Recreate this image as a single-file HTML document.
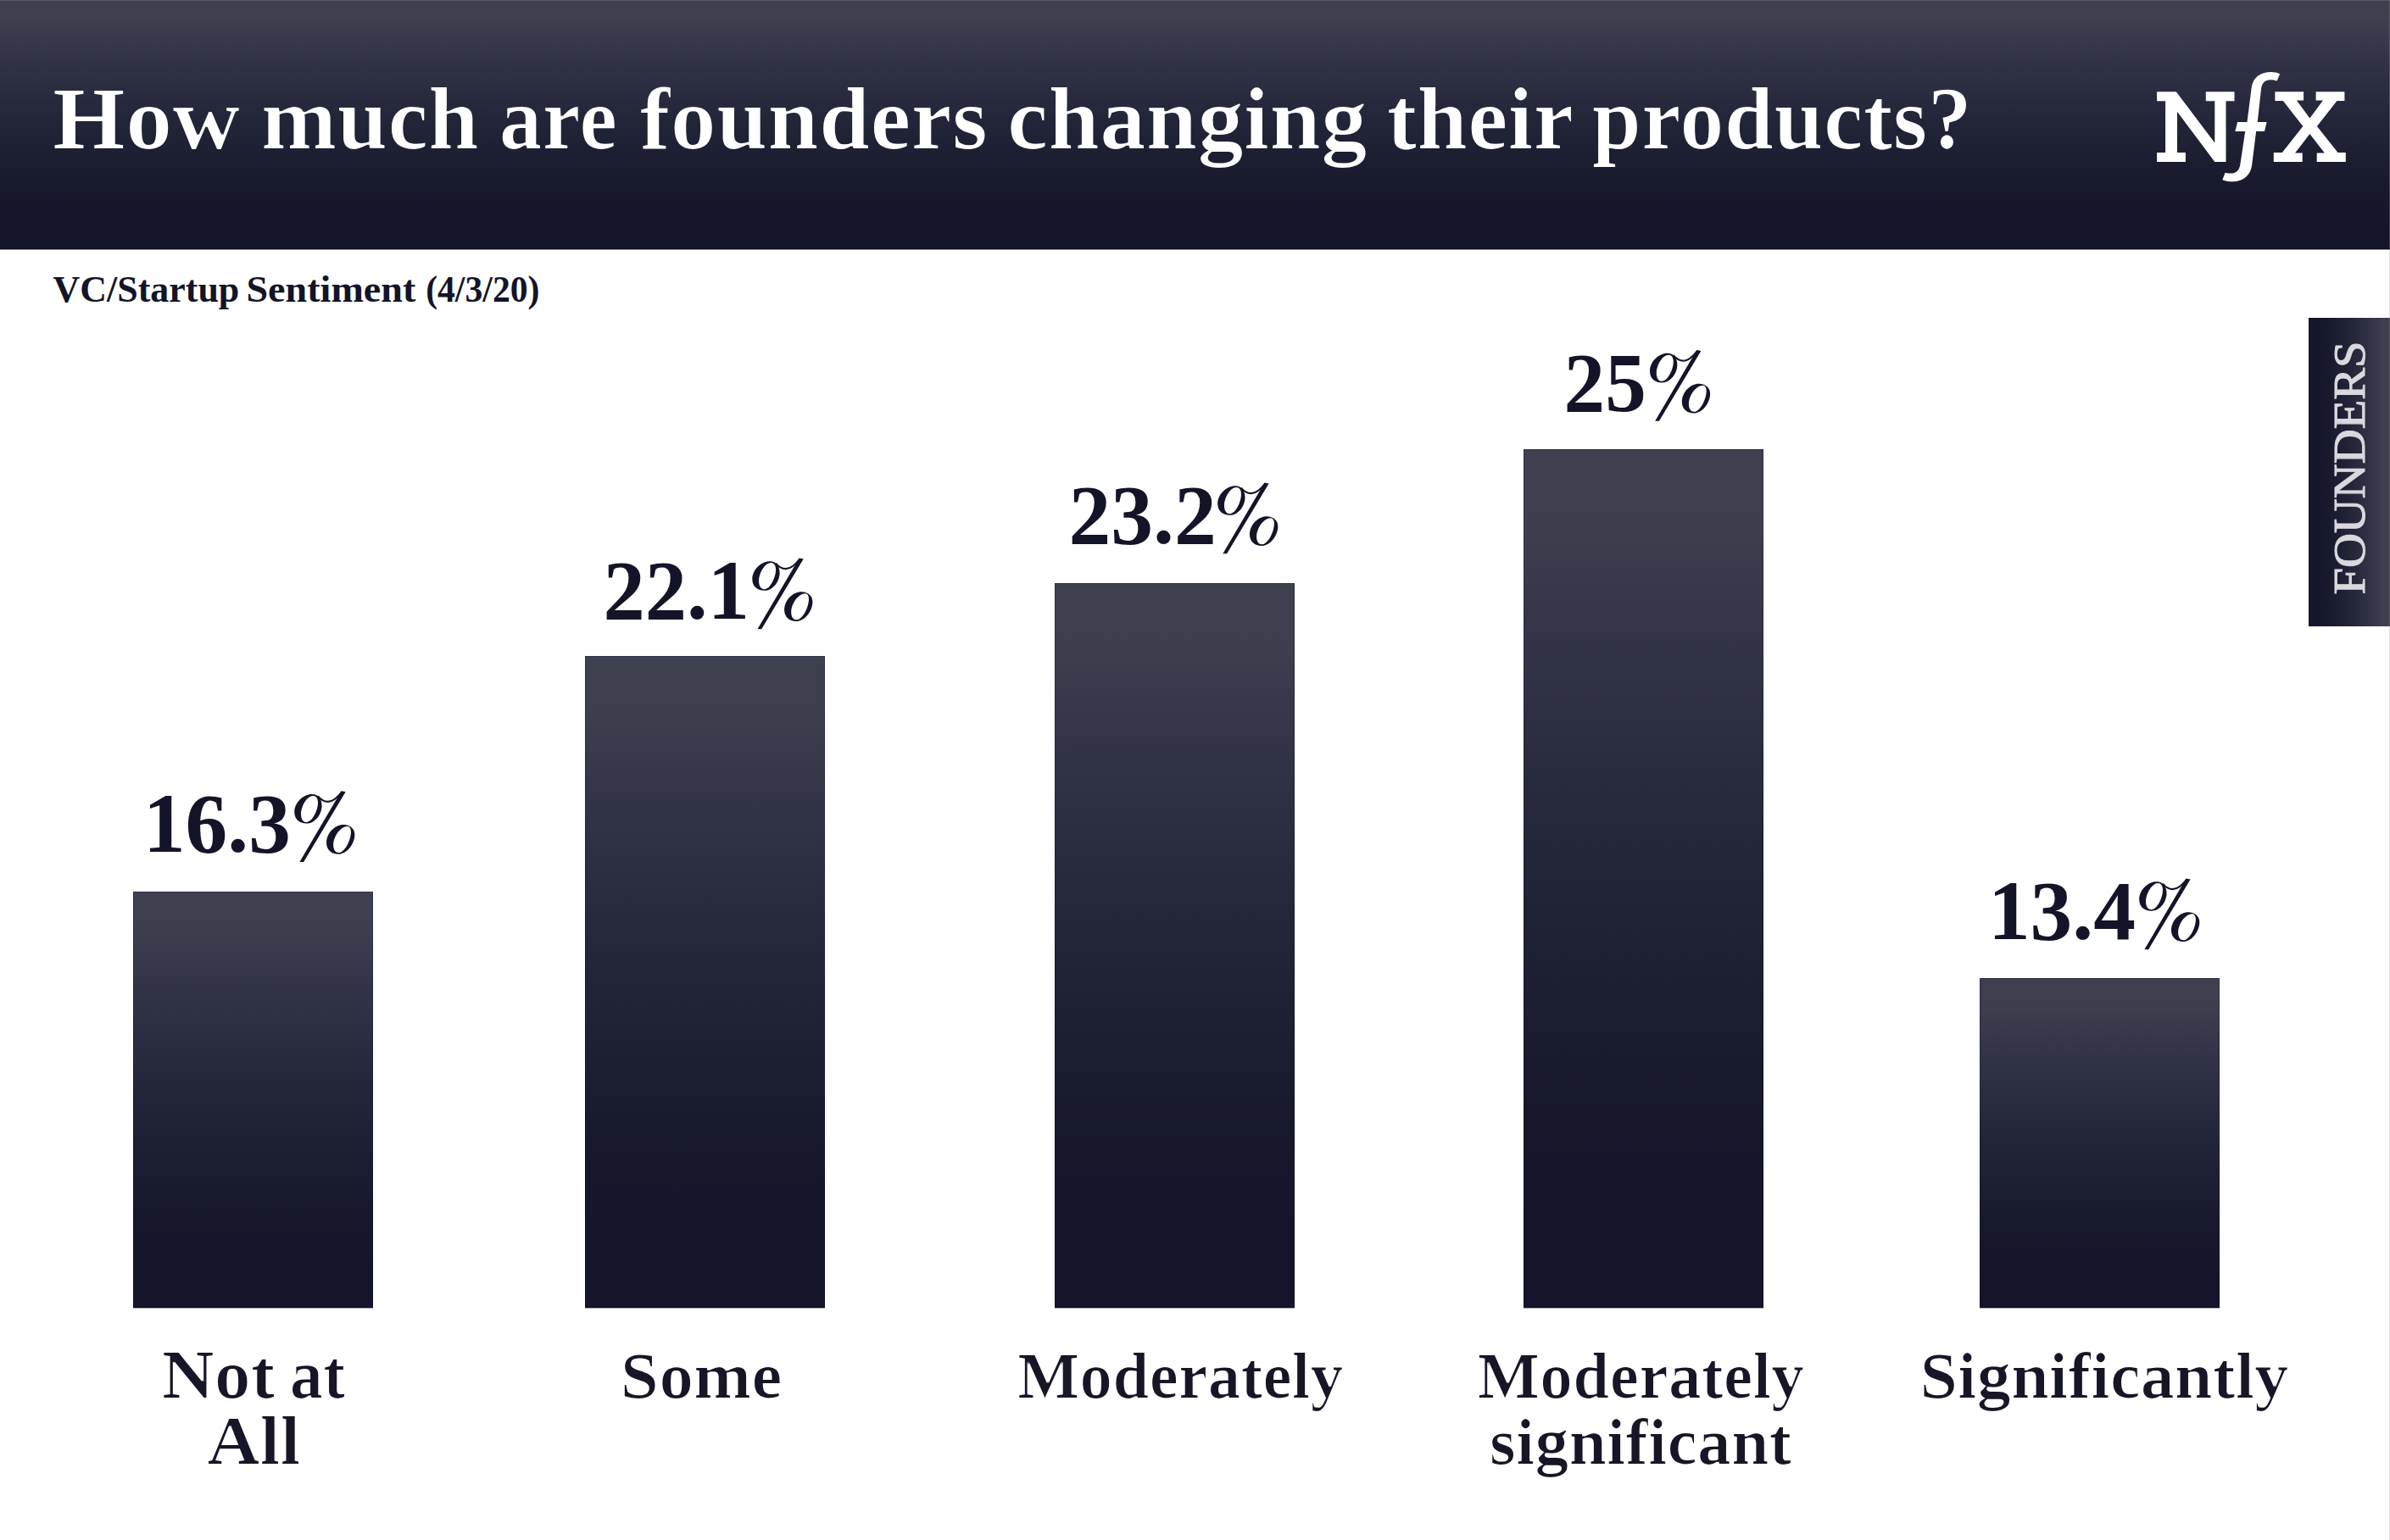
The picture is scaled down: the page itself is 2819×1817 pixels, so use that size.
<!DOCTYPE html>
<html><head><meta charset="utf-8">
<style>
html,body{margin:0;padding:0;background:#fff;}
body{width:2819px;height:1817px;overflow:hidden;position:relative;}
svg{position:absolute;left:0;top:0;display:block;}
text{font-family:"Liberation Serif",serif;font-kerning:normal;}
</style></head>
<body>
<svg width="2819" height="1817" viewBox="0 0 2819 1817">
<defs>
<linearGradient id="hg" x1="0" y1="0" x2="0" y2="294" gradientUnits="userSpaceOnUse">
<stop offset="0" stop-color="#3e3f4f"/><stop offset="0.075" stop-color="#3e3f4f"/><stop offset="0.221" stop-color="#333447"/><stop offset="0.493" stop-color="#222438"/><stop offset="0.765" stop-color="#17182c"/><stop offset="0.908" stop-color="#14152a"/><stop offset="1" stop-color="#14152a"/>
</linearGradient>
<linearGradient id="bg" x1="0" y1="0" x2="0" y2="1">
<stop offset="0" stop-color="#3e3f4f"/><stop offset="0.075" stop-color="#3e3f4f"/><stop offset="0.221" stop-color="#333447"/><stop offset="0.493" stop-color="#222438"/><stop offset="0.765" stop-color="#17182c"/><stop offset="0.908" stop-color="#14152a"/><stop offset="1" stop-color="#14152a"/>
</linearGradient>
<linearGradient id="tg" x1="0" y1="0" x2="1" y2="0">
<stop offset="0" stop-color="#14152a"/><stop offset="0.092" stop-color="#14152a"/><stop offset="0.235" stop-color="#17182c"/><stop offset="0.507" stop-color="#222438"/><stop offset="0.779" stop-color="#333447"/><stop offset="0.925" stop-color="#3e3f4f"/><stop offset="1" stop-color="#3e3f4f"/>
</linearGradient>
<g id="pctg">
<path fill-rule="evenodd" d="M430,185 C545,185 610,280 608,400 C605,560 480,718 330,718 C190,718 110,630 110,510 C110,340 270,185 430,185 Z M450,214 C505,214 538,265 538,335 C538,480 435,692 330,692 C268,692 230,640 230,545 C230,400 340,214 450,214 Z"/>
<path fill="none" stroke="#131428" stroke-width="32" d="M538,222 C590,290 640,322 720,322 C800,322 880,262 975,140"/>
<path d="M962,128 L1040,143 L278,1416 L205,1416 Z"/>
<path fill-rule="evenodd" d="M1000,740 C1130,740 1205,820 1205,920 C1205,1090 1060,1275 910,1275 C780,1275 692,1190 692,1070 C692,890 850,740 1000,740 Z M1075,771 C1118,771 1137,820 1137,870 C1137,1020 1025,1248 915,1248 C858,1248 817,1200 817,1110 C817,960 945,771 1075,771 Z"/>
</g>
<filter id="thin1" x="-5%" y="-20%" width="110%" height="140%"><feMorphology operator="erode" radius="1 0"/></filter>
</defs>
<rect x="0" y="0" width="2819" height="294" fill="url(#hg)"/>
<rect x="0" y="0" width="2819" height="1" fill="#97979e" fill-opacity="0.3"/>
<rect x="0" y="293" width="2819" height="1" fill="#0c0c20"/>
<rect x="0" y="294" width="2819" height="1" fill="#14152a" fill-opacity="0.45"/>
<g fill="#fff">
<path d="M2544.1,108.2 L2566.8,108.2 L2612.3,168.6 L2612.3,119.3 L2601.8,119.3 L2601.8,108.2 L2635.5,108.2 L2635.5,119.3 L2625.5,119.3 L2625.5,190.9 L2612.3,190.9 L2568,131.8 L2568,180 L2577.9,180 L2577.9,190.9 L2544.1,190.9 L2544.1,180 L2554.1,180 L2554.1,119.3 L2544.1,119.3 Z"/>
<path transform="translate(2530,80) scale(0.0909091)" d="M1750,80 L1712,170 C1680,160 1640,155 1600,160 C1540,170 1515,220 1508,270 L1460,705 L1580,705 L1550,825 L1442,825 L1388,1260 C1375,1380 1290,1478 1130,1478 C1080,1478 1040,1468 1005,1455 L1040,1360 C1070,1368 1100,1372 1130,1370 C1190,1365 1225,1320 1235,1260 L1300,825 L1170,825 L1200,705 L1325,705 L1383,255 C1400,130 1490,55 1640,55 C1680,55 1720,65 1750,80 Z"/>
<path d="M2683.4,108.2 L2717.1,108.2 L2717.1,118.6 L2708.9,118.6 L2724.4,139.6 L2739.9,118.6 L2731.6,118.6 L2731.6,108.2 L2765.4,108.2 L2765.4,119.1 L2756.4,119.1 L2732.9,148.9 L2757.5,180 L2766.8,180 L2766.8,191.1 L2732.7,191.1 L2732.7,180.4 L2741.8,180.4 L2724.4,157.9 L2707.1,180.4 L2715.7,180.4 L2715.7,191.1 L2681.8,191.1 L2681.8,180 L2691.8,180 L2716.3,148.9 L2692.9,119.1 L2683.4,119.1 Z"/>
</g>
<rect x="2723" y="375" width="96" height="364" fill="url(#tg)"/>
<text id="tab" transform="translate(2789.10,701.62) rotate(-90)" x="0" y="0" font-size="53.6" textLength="299.27" lengthAdjust="spacingAndGlyphs" fill="#d9d9dd" stroke="#d9d9dd" stroke-width="1.0">FOUNDERS</text>
<rect x="157" y="1543" width="283" height="1" fill="#14152a" fill-opacity="0.35"/>
<rect x="690" y="1543" width="283" height="1" fill="#14152a" fill-opacity="0.35"/>
<rect x="1244" y="1543" width="283" height="1" fill="#14152a" fill-opacity="0.35"/>
<rect x="1797" y="1543" width="283" height="1" fill="#14152a" fill-opacity="0.35"/>
<rect x="2335" y="1543" width="283" height="1" fill="#14152a" fill-opacity="0.35"/>
<rect x="157" y="1052" width="283" height="491" fill="url(#bg)"/><rect x="157.5" y="1052.5" width="282" height="490" fill="none" stroke="#00003a" stroke-opacity="0.25" stroke-width="1"/>
<rect x="690" y="774" width="283" height="769" fill="url(#bg)"/><rect x="690.5" y="774.5" width="282" height="768" fill="none" stroke="#00003a" stroke-opacity="0.25" stroke-width="1"/>
<rect x="1244" y="688" width="283" height="855" fill="url(#bg)"/><rect x="1244.5" y="688.5" width="282" height="854" fill="none" stroke="#00003a" stroke-opacity="0.25" stroke-width="1"/>
<rect x="1797" y="530" width="283" height="1013" fill="url(#bg)"/><rect x="1797.5" y="530.5" width="282" height="1012" fill="none" stroke="#00003a" stroke-opacity="0.25" stroke-width="1"/>
<rect x="2335" y="1154" width="283" height="389" fill="url(#bg)"/><rect x="2335.5" y="1154.5" width="282" height="388" fill="none" stroke="#00003a" stroke-opacity="0.25" stroke-width="1"/>
<g fill="#131428">
<use href="#pctg" transform="translate(347.25,1004.80) scale(0.06494) translate(-110,-1229)"/>
<use href="#pctg" transform="translate(887.30,730.00) scale(0.06494) translate(-110,-1229)"/>
<use href="#pctg" transform="translate(1436.20,641.00) scale(0.06494) translate(-110,-1229)"/>
<use href="#pctg" transform="translate(1946.00,484.60) scale(0.06494) translate(-110,-1229)"/>
<use href="#pctg" transform="translate(2523.20,1108.00) scale(0.06494) translate(-110,-1229)"/>
</g>
<text id="title0" x="61.82" y="175.10" font-size="104" font-weight="bold" textLength="221.53" lengthAdjust="spacingAndGlyphs" fill="#fff" filter="url(#thin1)">How</text>
<text id="title1" x="307.86" y="175.10" font-size="104" font-weight="bold" textLength="256.91" lengthAdjust="spacingAndGlyphs" fill="#fff" filter="url(#thin1)">much</text>
<text id="title2" x="588.58" y="175.10" font-size="104" font-weight="bold" textLength="139.69" lengthAdjust="spacingAndGlyphs" fill="#fff" filter="url(#thin1)">are</text>
<text id="title3" x="754.40" y="175.10" font-size="104" font-weight="bold" textLength="410.62" lengthAdjust="spacingAndGlyphs" fill="#fff" filter="url(#thin1)">founders</text>
<text id="title4" x="1187.75" y="175.10" font-size="104" font-weight="bold" textLength="424.76" lengthAdjust="spacingAndGlyphs" fill="#fff" filter="url(#thin1)">changing</text>
<text id="title5" x="1635.40" y="175.10" font-size="104" font-weight="bold" textLength="220.71" lengthAdjust="spacingAndGlyphs" fill="#fff" filter="url(#thin1)">their</text>
<text id="title6" x="1877.46" y="175.10" font-size="104" font-weight="bold" textLength="448.81" lengthAdjust="spacingAndGlyphs" fill="#fff" filter="url(#thin1)">products?</text>
<text id="sub0" x="62.51" y="355.80" font-size="44.7" font-weight="bold" textLength="219.83" lengthAdjust="spacingAndGlyphs" fill="#131428">VC/Startup</text>
<text id="sub1" x="290.41" y="355.80" font-size="44.7" font-weight="bold" textLength="199.93" lengthAdjust="spacingAndGlyphs" fill="#131428">Sentiment</text>
<text id="sub2" x="502.13" y="355.80" font-size="44.7" font-weight="bold" textLength="134.39" lengthAdjust="spacingAndGlyphs" fill="#131428">(4/3/20)</text>
<text id="v1" x="168.92" y="1004.80" font-size="98.5" font-weight="bold" textLength="173.96" lengthAdjust="spacingAndGlyphs" fill="#131428">16.3</text>
<text id="v2" x="711.50" y="730.00" font-size="98.5" font-weight="bold" textLength="172.38" lengthAdjust="spacingAndGlyphs" fill="#131428">22.1</text>
<text id="v3" x="1260.45" y="641.00" font-size="98.5" font-weight="bold" textLength="174.27" lengthAdjust="spacingAndGlyphs" fill="#131428">23.2</text>
<text id="v4" x="1844.56" y="484.60" font-size="98.5" font-weight="bold" textLength="97.19" lengthAdjust="spacingAndGlyphs" fill="#131428">25</text>
<text id="v5" x="2344.93" y="1108.00" font-size="98.5" font-weight="bold" textLength="173.92" lengthAdjust="spacingAndGlyphs" fill="#131428">13.4</text>
<text id="c1a0" x="190.78" y="1648.80" font-size="80.2" font-weight="bold" textLength="133.66" lengthAdjust="spacingAndGlyphs" fill="#131428" filter="url(#thin1)">Not</text>
<text id="c1a1" x="341.54" y="1648.80" font-size="80.2" font-weight="bold" textLength="65.94" lengthAdjust="spacingAndGlyphs" fill="#131428" filter="url(#thin1)">at</text>
<text id="c1b" x="244.31" y="1726.80" font-size="80.2" font-weight="bold" textLength="110.23" lengthAdjust="spacingAndGlyphs" fill="#131428" filter="url(#thin1)">All</text>
<text id="c2" x="731.60" y="1648.80" font-size="76.4" font-weight="bold" textLength="191.03" lengthAdjust="spacingAndGlyphs" fill="#131428" filter="url(#thin1)">Some</text>
<text id="c3" x="1199.95" y="1648.90" font-size="76.4" font-weight="bold" textLength="384.45" lengthAdjust="spacingAndGlyphs" fill="#131428" filter="url(#thin1)">Moderately</text>
<text id="c4a" x="1742.46" y="1648.90" font-size="76.4" font-weight="bold" textLength="385.64" lengthAdjust="spacingAndGlyphs" fill="#131428" filter="url(#thin1)">Moderately</text>
<text id="c4b" x="1756.84" y="1726.80" font-size="76.4" font-weight="bold" textLength="356.37" lengthAdjust="spacingAndGlyphs" fill="#131428" filter="url(#thin1)">significant</text>
<text id="c5" x="2264.21" y="1648.70" font-size="76.4" font-weight="bold" textLength="435.30" lengthAdjust="spacingAndGlyphs" fill="#131428" filter="url(#thin1)">Significantly</text>
<rect x="2818" y="0" width="1" height="1817" fill="#97979e" fill-opacity="0.34"/>
</svg>
</body></html>
